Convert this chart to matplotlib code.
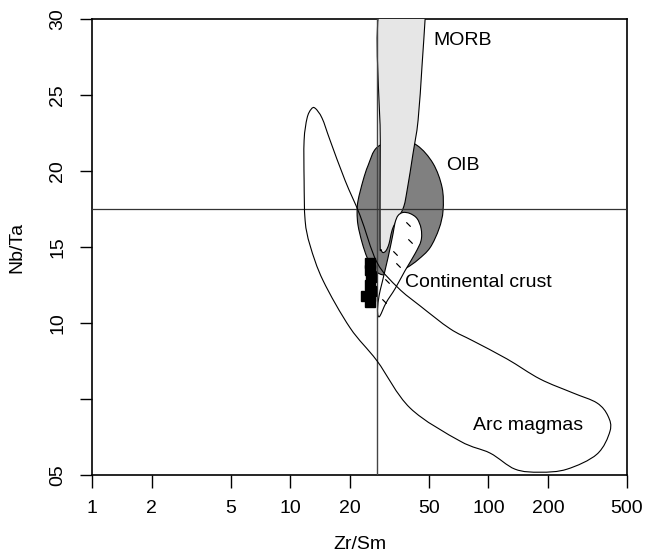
import numpy as np
import matplotlib
matplotlib.use("Agg")
import matplotlib.pyplot as plt
from matplotlib.path import Path
from matplotlib.patches import PathPatch

plt.rcParams['font.family'] = ['Liberation Sans', 'DejaVu Sans']

# Field outlines (Zr/Sm, Nb/Ta)
arc_x = [13.34, 14.47, 15.88, 18.90, 22.50, 27.41, 34.99, 45.17, 64.0, 83.6,
         124.1, 182.1, 267.2, 353.1, 401.3, 410.8, 353.1, 249.3, 182.1, 136.2,
         101.9, 71.9, 40.22, 27.41, 20.03, 14.64, 12.59, 11.88, 11.74, 11.74,
         12.15, 12.74]
arc_y = [24.15, 23.49, 22.03, 19.39, 17.08, 13.98, 12.32, 11.13, 9.62, 8.82,
         7.63, 6.31, 5.39, 4.73, 3.87, 2.88, 1.36, 0.37, 0.17, 0.37,
         1.43, 2.22, 4.40, 7.50, 9.68, 12.79, 15.10, 16.75, 19.39, 22.03,
         23.49, 24.08]

morb_x = [28.55, 28.45, 28.39, 28.72, 29.39, 30.44, 31.51, 33.01, 37.08,
          38.85, 41.65, 44.15, 46.24, 47.87, 48.3]
morb_y = [31.0, 22.0, 15.43, 14.83, 14.64, 14.77, 15.23, 16.29, 17.54,
          18.73, 21.18, 23.35, 26.98, 29.96, 31.0]

oib_x = [27.41, 24.70, 23.30, 21.98, 21.73, 21.98, 23.03, 24.41, 26.17, 29.05,
         33.80, 38.85, 44.15, 50.74, 56.35, 59.0, 58.34, 52.54, 43.63, 34.99]
oib_y = [21.57, 20.38, 19.39, 18.07, 17.28, 16.42, 15.30, 14.31, 13.58, 13.18,
         13.25, 13.65, 14.17, 14.96, 16.22, 17.41, 18.93, 20.51, 21.70, 22.09]

cc_x = [27.73, 27.57, 28.06, 29.05, 31.14, 33.01, 33.80, 34.99, 37.08, 40.22,
        43.63, 45.71, 45.71, 42.63, 37.95, 33.80, 30.44, 28.39]
cc_y = [10.48, 10.94, 11.80, 12.65, 14.31, 15.89, 16.62, 17.08, 17.28, 17.21,
        16.88, 16.22, 15.43, 14.57, 13.45, 12.26, 11.33, 10.48]

cc_dash_x = [39.3, 40.22, 33.80, 34.99, 30.8, 29.7]
cc_dash_y = [16.55, 15.37, 14.64, 13.84, 12.79, 11.47]

# samples
sample_zrsm = [25.3, 25.3, 25.6, 25.3, 25.6, 24.1, 25.3, 25.3]
sample_nbta = [13.98, 13.5, 13.05, 12.5, 12.1, 11.75, 11.75, 11.35]

# chondritic reference values
ref_zrsm = 27.5
ref_nbta = 17.5

x_ticks = [1, 2, 5, 10, 20, 50, 100, 200, 500]
y_ticks = [0, 5, 10, 15, 20, 25, 30]
y_ticklabels = ["05", "", "10", "15", "20", "25", "30"]


def smooth_path(xs, ys):
    """closed catmull-rom outline, done in log-x space"""
    pts = np.column_stack([np.log10(xs), ys])
    n = len(pts)
    verts = [pts[0]]
    codes = [Path.MOVETO]
    for i in range(n):
        p0, p1, p2, p3 = pts[i - 1], pts[i], pts[(i + 1) % n], pts[(i + 2) % n]
        verts += [p1 + (p2 - p0) / 6, p2 - (p3 - p1) / 6, p2]
        codes += [Path.CURVE4] * 3
    verts = np.array(verts)
    verts[:, 0] = 10 ** verts[:, 0]
    return Path(verts, codes)


fig = plt.figure(figsize=(6.49, 5.54), dpi=100)
ax = fig.add_axes([0.142, 0.143, 0.824, 0.822])
ax.set_xscale('log')

ax.add_patch(PathPatch(smooth_path(oib_x, oib_y), facecolor='#808080',
                       edgecolor='black', lw=0.8, zorder=2))
ax.add_patch(PathPatch(smooth_path(morb_x, morb_y), facecolor='#e6e6e6',
                       edgecolor='black', lw=0.8, zorder=3))
ax.add_patch(PathPatch(smooth_path(cc_x, cc_y), facecolor='white',
                       edgecolor='black', lw=0.8, zorder=4))
ax.plot(cc_dash_x, cc_dash_y, ls='none', marker=(2, 2, 45), ms=4,
        mec='black', mew=0.6, zorder=5)

ax.axvline(ref_zrsm, color='#444444', lw=1.0, zorder=5)
ax.axhline(ref_nbta, color='#333333', lw=0.9, zorder=5)

ax.add_patch(PathPatch(smooth_path(arc_x, arc_y), facecolor='none',
                       edgecolor='black', lw=0.8, zorder=6))

ax.plot(sample_zrsm, sample_nbta, ls='none', marker='s', ms=6.5,
        color='black', zorder=7)

fs = 14
ax.text(52.5, 28.6, 'MORB', fontsize=fs, va='center', ha='left')
ax.text(61.1, 20.38, 'OIB', fontsize=fs, va='center', ha='left')
ax.text(37.95, 12.65, 'Continental crust', fontsize=fs, va='center',
        ha='left', zorder=8)
ax.text(83.6, 3.27, 'Arc magmas', fontsize=fs, va='center', ha='left')

ax.set_xlim(1, 500)
ax.set_ylim(0, 30)
ax.set_xticks(x_ticks)
ax.set_xticklabels([str(v) for v in x_ticks])
ax.xaxis.set_minor_locator(matplotlib.ticker.NullLocator())
ax.set_yticks(y_ticks)
ax.set_yticklabels(y_ticklabels, rotation=90, va='center')
ax.tick_params(length=9, width=1.0, labelsize=fs, pad=9.5, direction='out')
for s in ax.spines.values():
    s.set_linewidth(1.2)

ax.set_xlabel('Zr/Sm', fontsize=fs, labelpad=13)
ax.set_ylabel('Nb/Ta', fontsize=fs, labelpad=17)

fig.savefig('out.png', dpi=100)
